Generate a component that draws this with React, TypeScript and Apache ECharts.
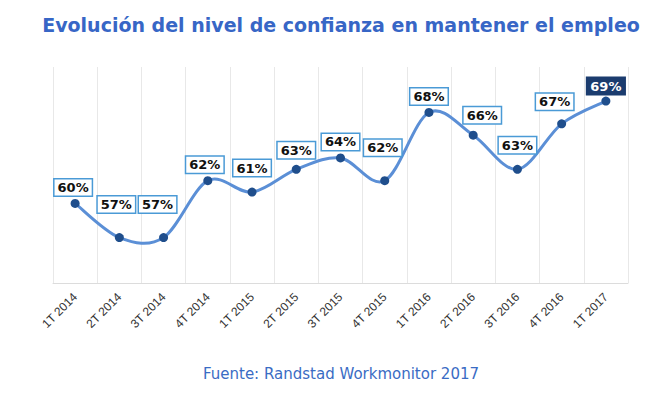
import React, { useEffect, useRef } from "react";
import * as echarts from "echarts";

const categories = ["1T 2014", "2T 2014", "3T 2014", "4T 2014", "1T 2015", "2T 2015", "3T 2015", "4T 2015", "1T 2016", "2T 2016", "3T 2016", "4T 2016", "1T 2017"];
const values = [60, 57, 57, 62, 61, 63, 64, 62, 68, 66, 63, 67, 69];
const titleText = "Evolución del nivel de confianza en mantener el empleo";
const sourceText = "Fuente: Randstad Workmonitor 2017";

// label placement (style): offset of label centre from the point
const labelDx = [-2, -3, -6, -3, 0, 0, 0, -2, 0, 9, 0, -7, 0];
const labelDy = [16, 33, 33, 16, 24, 19, 16, 33, 16, 20, 24, 22, 15];

function splinePath(pts: number[][]): string {
  let d = `M${pts[0][0]},${pts[0][1]}`;
  for (let i = 0; i < pts.length - 1; i++) {
    const p0 = pts[Math.max(0, i - 1)];
    const p1 = pts[i];
    const p2 = pts[i + 1];
    const p3 = pts[Math.min(pts.length - 1, i + 2)];
    const c1x = p1[0] + (p2[0] - p0[0]) / 6;
    const c1y = p1[1] + (p2[1] - p0[1]) / 6;
    const c2x = p2[0] - (p3[0] - p1[0]) / 6;
    const c2y = p2[1] - (p3[1] - p1[1]) / 6;
    d += ` C${c1x},${c1y} ${c2x},${c2y} ${p2[0]},${p2[1]}`;
  }
  return d;
}

export default function App() {
  const ref = useRef<HTMLDivElement>(null);
  useEffect(() => {
    document.body.style.margin = "0";
    const chart = echarts.init(ref.current!, null, { renderer: "svg" });
    const last = values.length - 1;
    chart.setOption({
      animation: false,
      backgroundColor: "#ffffff",
      title: [
        {
          text: titleText,
          left: 336,
          textAlign: "center",
          top: 10,
          textStyle: { fontFamily: "DejaVu Sans", fontWeight: "bold", fontSize: 19, color: "#3766c6" },
        },
        {
          text: sourceText,
          left: 336,
          textAlign: "center",
          top: 361,
          textStyle: { fontFamily: "DejaVu Sans", fontWeight: "normal", fontSize: 15, color: "#3a6cc4" },
        },
      ],
      grid: { left: 53, right: 32, top: 67, bottom: 111 },
      xAxis: {
        type: "category",
        data: categories,
        boundaryGap: true,
        axisLine: { show: true, lineStyle: { color: "#dcdcdc" } },
        axisTick: { show: false },
        splitLine: { show: true, lineStyle: { color: "#e8e8e8", width: 1 } },
        axisLabel: {
          rotate: 45,
          interval: 0,
          margin: 12,
          fontFamily: "Liberation Sans",
          fontSize: 12,
          color: "#333333",
        },
      },
      yAxis: {
        type: "value",
        min: 53,
        max: 72,
        show: false,
        splitLine: { show: false },
      },
      series: [
        {
          type: "custom",
          data: values.map((v, i) => [i, v]),
          z: 2,
          silent: true,
          renderItem: (params: any, api: any) => {
            if (params.dataIndex !== 0) return null;
            const pts = values.map((v, i) => api.coord([i, v]));
            return {
              type: "path",
              shape: { pathData: splinePath(pts) },
              style: { fill: "none", stroke: "#5b8fd6", lineWidth: 3, lineCap: "round", lineJoin: "round" },
            };
          },
        },
        {
          type: "line",
          data: values.map((v, i) => ({
            value: v,
            label: {
              offset: [labelDx[i], -labelDy[i]],
              ...(i === last
                ? { backgroundColor: "#1b3c6e", borderColor: "#1b3c6e", color: "#ffffff" }
                : {}),
            },
          })),
          lineStyle: { width: 0, opacity: 0 },
          symbol: "circle",
          symbolSize: 9,
          itemStyle: { color: "#1f4e8c" },
          label: {
            show: true,
            position: "inside",
            formatter: "{c}%",
            fontFamily: "DejaVu Sans",
            fontWeight: "bold",
            fontSize: 13,
            color: "#111111",
            backgroundColor: "#ffffff",
            borderColor: "#4a9ad6",
            borderWidth: 1.5,
            padding: [2, 3, 1, 3],
          },
          z: 3,
        },
      ],
    });
    return () => chart.dispose();
  }, []);
  return <div ref={ref} style={{ width: 660, height: 394 }} />;
}
